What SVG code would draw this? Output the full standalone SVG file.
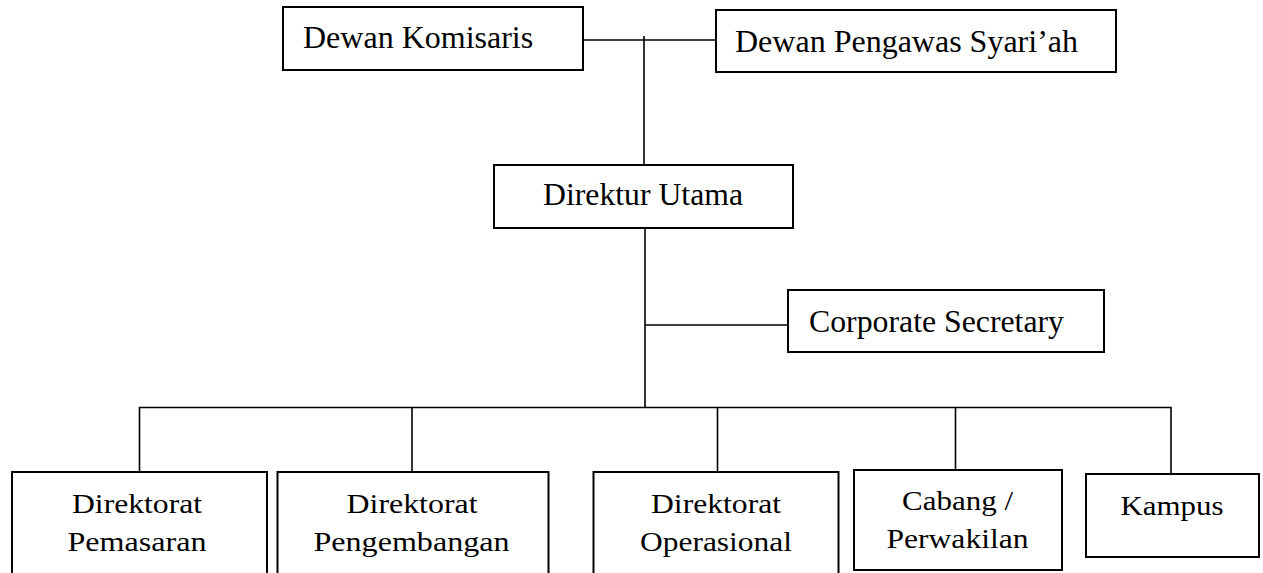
<svg xmlns="http://www.w3.org/2000/svg" width="1263" height="573" viewBox="0 0 1263 573">
<style>
.box{fill:#fff;stroke:#000;stroke-width:2}
.t{font-size:32px;fill:#000}
.b{font-size:28px;fill:#000;text-anchor:middle}
.c{fill:none;stroke:#000;stroke-width:1.6}
</style>
<rect width="1263" height="573" fill="#fff"/>
<g id="connectors">
<path class="c" d="M584 40 H715"/>
<path class="c" d="M644 36 V165"/>
<path class="c" d="M645 228 V408"/>
<path class="c" d="M645 325 H788"/>
<path class="c" d="M139.5 472 V407.5 H1171 V473"/>
<path class="c" d="M412 407.5 V472"/>
<path class="c" d="M717.5 407.5 V472"/>
<path class="c" d="M955.5 407.5 V470"/>
</g>
<g font-family="Liberation Serif">
<g id="dewan-komisaris">
<rect class="box" x="283" y="7" width="300" height="63"/>
<text class="t" x="303" y="48">Dewan Komisaris</text>
</g>
<g id="dewan-pengawas-syariah">
<rect class="box" x="716" y="10" width="400" height="62"/>
<text class="t" x="735" y="52" textLength="343" lengthAdjust="spacingAndGlyphs">Dewan Pengawas Syari’ah</text>
</g>
<g id="direktur-utama">
<rect class="box" x="494" y="165" width="299" height="63"/>
<text class="t" x="543" y="205" textLength="200" lengthAdjust="spacingAndGlyphs">Direktur Utama</text>
</g>
<g id="corporate-secretary">
<rect class="box" x="788" y="290" width="316" height="62"/>
<text class="t" x="809" y="332" textLength="255" lengthAdjust="spacingAndGlyphs">Corporate Secretary</text>
</g>
<g id="direktorat-pemasaran">
<rect class="box" x="12" y="472" width="255" height="130"/>
<text class="b" x="137" y="513" textLength="130" lengthAdjust="spacingAndGlyphs">Direktorat</text>
<text class="b" x="137" y="551" textLength="139" lengthAdjust="spacingAndGlyphs">Pemasaran</text>
</g>
<g id="direktorat-pengembangan">
<rect class="box" x="277.5" y="472" width="271" height="130"/>
<text class="b" x="412" y="513" textLength="131" lengthAdjust="spacingAndGlyphs">Direktorat</text>
<text class="b" x="411.5" y="551" textLength="196" lengthAdjust="spacingAndGlyphs">Pengembangan</text>
</g>
<g id="direktorat-operasional">
<rect class="box" x="593.5" y="472" width="245" height="130"/>
<text class="b" x="716" y="513" textLength="130" lengthAdjust="spacingAndGlyphs">Direktorat</text>
<text class="b" x="716" y="551" textLength="152" lengthAdjust="spacingAndGlyphs">Operasional</text>
</g>
<g id="cabang-perwakilan">
<rect class="box" x="854" y="470" width="208" height="100"/>
<text class="b" x="957.5" y="510" textLength="111" lengthAdjust="spacingAndGlyphs">Cabang /</text>
<text class="b" x="957.5" y="548" textLength="142" lengthAdjust="spacingAndGlyphs">Perwakilan</text>
</g>
<g id="kampus">
<rect class="box" x="1086" y="474" width="173" height="83"/>
<text class="b" x="1172" y="515" textLength="103" lengthAdjust="spacingAndGlyphs">Kampus</text>
</g>
</g>
</svg>
